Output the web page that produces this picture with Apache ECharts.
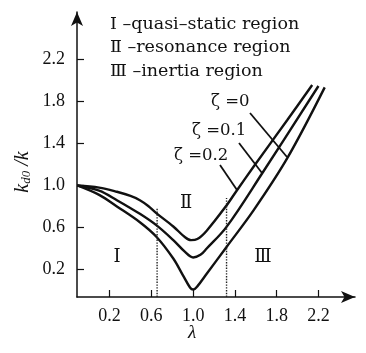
<!DOCTYPE html>
<html>
<head>
<meta charset="utf-8">
<script src="https://cdn.jsdelivr.net/npm/echarts@6/dist/echarts.min.js"></script>
<style>
  html, body { margin: 0; padding: 0; background: #fff; }
  #chart { width: 366px; height: 353px; }
</style>
</head>
<body>
<div id="chart"></div>
<script>
// tick labels
const xTicks = [0.2, 0.6, 1.0, 1.4, 1.8, 2.2];
const yTicks = [0.2, 0.6, 1.0, 1.4, 1.8, 2.2];

// curves (lambda, k_d0/k)
const lamZeta02 = [-0.11, 0.1, 0.27, 0.4, 0.49, 0.57, 0.65, 0.81, 0.92, 0.98, 1.04, 1.13, 1.32, 1.42, 1.58, 1.9, 2.14];
const kZeta02   = [1.0, 0.98, 0.94, 0.9, 0.86, 0.805, 0.735, 0.61, 0.51, 0.48, 0.49, 0.57, 0.81, 0.955, 1.18, 1.62, 1.955];

const lamZeta01 = [-0.11, 0.1, 0.27, 0.49, 0.65, 0.81, 0.92, 1.0, 1.07, 1.13, 1.32, 1.66, 2.2];
const kZeta01   = [1.0, 0.95, 0.86, 0.73, 0.62, 0.48, 0.37, 0.315, 0.34, 0.4, 0.606, 1.114, 1.946];

const lamZeta0 = [-0.11, 0.1, 0.27, 0.49, 0.65, 0.81, 0.9, 0.97, 1.0, 1.04, 1.13, 1.32, 1.58, 1.9, 2.26];
const kZeta0   = [1.0, 0.91, 0.8, 0.65, 0.51, 0.305, 0.15, 0.03, 0.01, 0.04, 0.16, 0.415, 0.765, 1.257, 1.933];

// region dividers
const dividerLam = [0.655, 1.32];
const dividerTop = [0.78, 0.88];

const FONT = '"Liberation Serif", "DejaVu Serif", serif';
const WIDE = '"DejaVu Serif", "Liberation Serif", serif';
const INK = '#111';

const chart = echarts.init(document.getElementById('chart'));

function pairs(xs, ys) {
  return xs.map((x, i) => [x, ys[i]]);
}

const curve = (name, xs, ys) => ({
  name: name,
  type: 'line',
  data: pairs(xs, ys),
  symbol: 'none',
  smooth: 0.35,
  silent: true,
  lineStyle: { color: INK, width: 2.4 }
});

const yMin = -0.061;

const dividers = dividerLam.map((x, i) => ({
  type: 'line',
  data: [[x, yMin], [x, dividerTop[i]]],
  symbol: 'none',
  silent: true,
  lineStyle: { color: '#222', width: 1.4, type: 'dotted' }
}));

const txt = (x, y, text, extra) => ({
  type: 'text',
  x: x,
  y: y,
  style: Object.assign({
    text: text,
    font: '17.5px ' + WIDE,
    fill: INK,
    verticalAlign: 'middle'
  }, extra || {})
});

const lead = (x1, y1, x2, y2) => ({
  type: 'line',
  shape: { x1: x1, y1: y1, x2: x2, y2: y2 },
  style: { stroke: INK, lineWidth: 1.8 }
});

const zeta = '16.5px ' + WIDE;

const option = {
  animation: false,
  grid: { left: 77, right: 11, top: 12, bottom: 56 },
  xAxis: {
    type: 'value',
    min: -0.112,
    max: 2.55,
    axisLine: {
      show: true, onZero: false,
      symbol: ['none', 'arrow'], symbolSize: [9, 14],
      lineStyle: { color: INK, width: 1.5 }
    },
    axisTick: { show: true, inside: true, length: 7, customValues: xTicks, lineStyle: { color: INK, width: 1.2 } },
    axisLabel: {
      customValues: xTicks,
      formatter: v => v.toFixed(1),
      margin: 10, fontFamily: FONT, fontSize: 18, color: INK
    },
    splitLine: { show: false }
  },
  yAxis: {
    type: 'value',
    min: yMin,
    max: 2.65,
    axisLine: {
      show: true, onZero: false,
      symbol: ['none', 'arrow'], symbolSize: [9, 14],
      lineStyle: { color: INK, width: 1.5 }
    },
    axisTick: { show: true, inside: true, length: 7, customValues: yTicks, lineStyle: { color: INK, width: 1.2 } },
    axisLabel: {
      customValues: yTicks,
      formatter: v => v.toFixed(1),
      margin: 12, fontFamily: FONT, fontSize: 18, color: INK
    },
    splitLine: { show: false }
  },
  series: [
    curve('ζ=0.2', lamZeta02, kZeta02),
    curve('ζ=0.1', lamZeta01, kZeta01),
    curve('ζ=0', lamZeta0, kZeta0)
  ].concat(dividers),
  graphic: [
    txt(110, 24, 'Ⅰ –quasi–static region'),
    txt(110, 47.5, 'Ⅱ –resonance region'),
    txt(110, 71, 'Ⅲ –inertia region'),
    txt(117, 257, 'Ⅰ', { align: 'center', font: '18px ' + WIDE }),
    txt(186, 203, 'Ⅱ', { align: 'center', font: '18px ' + WIDE }),
    txt(263, 257, 'Ⅲ', { align: 'center', font: '18px ' + WIDE }),
    txt(211, 102, 'ζ =0', { font: zeta }),
    txt(192, 131, 'ζ =0.1', { font: zeta }),
    txt(174, 156, 'ζ =0.2', { font: zeta }),
    lead(250, 113, 287, 157),
    lead(239, 143, 262, 173),
    lead(220, 165, 237, 190),
    txt(192, 333, 'λ', { align: 'center', font: 'italic 19px ' + FONT }),
    {
      type: 'text',
      x: 23,
      y: 172,
      rotation: Math.PI / 2,
      style: {
        text: '{k|k}{s|d0}{k| /k}',
        align: 'center',
        verticalAlign: 'middle',
        fill: INK,
        rich: {
          k: { font: 'italic 20px ' + FONT, fill: INK },
          s: { font: 'italic 13px ' + FONT, fill: INK, verticalAlign: 'bottom', padding: [7, 0, 0, 0] }
        }
      }
    }
  ]
};

chart.setOption(option);
</script>
</body>
</html>
